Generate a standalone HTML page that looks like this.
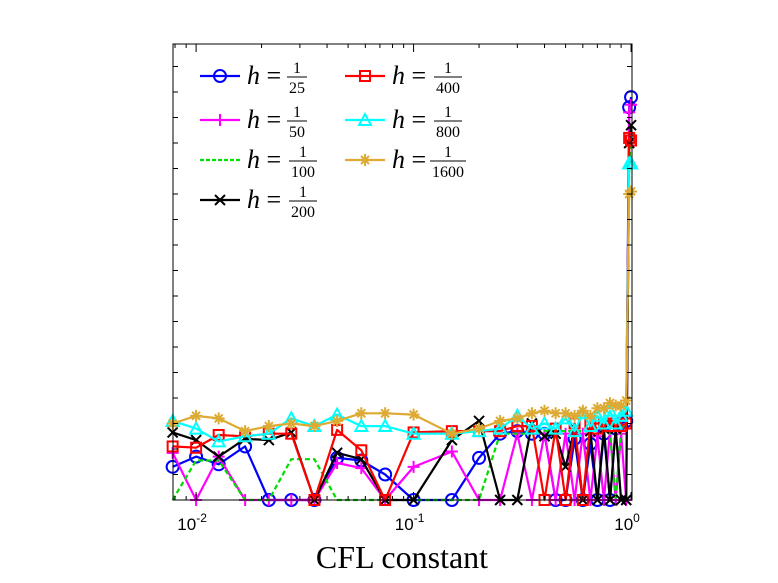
<!DOCTYPE html>
<html><head><meta charset="utf-8"><style>
html,body{margin:0;padding:0;background:#fff;}
svg{display:block;}
</style></head><body>
<svg id="chart" width="778" height="583" xmlns="http://www.w3.org/2000/svg">
<rect x="0" y="0" width="778" height="583" fill="#fff"/>
<g id="plot"></g>
<g id="axes"></g>
<g id="legend"></g>
<text x="402" y="568" text-anchor="middle" font-family="Liberation Serif, serif" font-size="32">CFL constant</text>
</svg>
<script>
const cfl = [0.0078,0.01,0.0127,0.0168,0.0216,0.0274,0.035,0.0445,0.0575,0.074,0.1,0.15,0.2,0.25,0.3,0.35,0.4,0.45,0.5,0.55,0.6,0.65,0.7,0.75,0.8,0.85,0.9,0.95,0.98,1.0];
const h25 = [1.3,1.7,1.4,2.1,0,0,0,1.65,1.55,1.0,0,0,1.65,2.6,2.7,2.6,2.6,0,0,2.4,0,2.2,0,2.6,0,2.8,3,3.1,15.4,15.8];
const h50 = [1.85,0,1.7,0,0,0,0,1.45,1.25,0,1.3,1.9,0,0,2.6,0,2.6,0,2.6,0,2.6,0,2.5,0,2.7,0,2.6,0,15.2,15.5];
const h100 = [0,1.55,1.55,0,0,1.6,1.6,0,0,0,0,0,0,2.6,2.6,2.6,2.7,2.7,2.7,2.7,2.7,2.7,2.8,2.8,2.6,0,2.8,3,13,14.5];
const h200 = [2.65,2.35,1.7,2.4,2.35,2.65,0,1.85,1.6,0,0,2.35,3.1,0,0,3,2.5,2.6,1.3,2.8,0,2.7,0,2.8,0,2.8,0,0,14,14.7];
const h400 = [2.1,2.05,2.55,2.5,2.6,2.6,0,2.75,1.95,0,2.65,2.7,2.7,2.7,2.9,2.9,0,2.8,0,3,0,3,2.8,3,2.9,3,2.9,3,14.2,14.1];
const h800 = [3.1,2.8,2.3,2.5,2.6,3.2,2.9,3.35,2.9,2.9,2.6,2.6,2.7,2.8,3.3,2.8,3.0,2.8,3.2,2.7,3.4,2.9,3.3,3.0,3.5,3.0,3.3,3.5,13.2,13.2];
const h1600 = [3.0,3.3,3.2,2.7,2.9,3.0,2.9,3.1,3.4,3.4,3.35,2.6,2.8,3.1,3.2,3.4,3.5,3.4,3.4,3.3,3.5,3.3,3.6,3.6,3.8,3.7,3.7,3.9,12.0,12.1];
const xTickLabels = ["-2","-1","0"];
const xTickValues = [0.01,0.1,1];
const legendDenoms = ["25","50","100","200","400","800","1600"];

const NS="http://www.w3.org/2000/svg";
const L=173,R=632,T=44,B=500;
const xmin=Math.log10(0.00783), xmax=Math.log10(1.01);
function xs(v){return L+(Math.log10(v)-xmin)/(xmax-xmin)*(R-L);}
function ys(v){return B-v*25.5;}
function el(tag,attrs,parent){const e=document.createElementNS(NS,tag);for(const k in attrs)e.setAttribute(k,attrs[k]);parent.appendChild(e);return e;}
const plot=document.getElementById('plot'), axes=document.getElementById('axes'), legend=document.getElementById('legend');

function marker(type,x,y,color,g){
  const s=6;
  if(type==='o') el('circle',{cx:x,cy:y,r:s,fill:'none',stroke:color,'stroke-width':2},g);
  else if(type==='+'){el('path',{d:`M${x-s} ${y}H${x+s}M${x} ${y-s}V${y+s}`,stroke:color,'stroke-width':2},g);}
  else if(type==='x'){el('path',{d:`M${x-5} ${y-5}L${x+5} ${y+5}M${x-5} ${y+5}L${x+5} ${y-5}`,stroke:color,'stroke-width':2},g);}
  else if(type==='s') el('rect',{x:x-5,y:y-5,width:10,height:10,fill:'none',stroke:color,'stroke-width':2},g);
  else if(type==='^') el('path',{d:`M${x} ${y-6}L${x+6} ${y+5}L${x-6} ${y+5}Z`,fill:'none',stroke:color,'stroke-width':2},g);
  else if(type==='*'){el('path',{d:`M${x-6} ${y}H${x+6}M${x} ${y-6}V${y+6}M${x-4} ${y-4}L${x+4} ${y+4}M${x-4} ${y+4}L${x+4} ${y-4}`,stroke:color,'stroke-width':2},g);}
}
const series=[
 {name:'h-25',data:h25,color:'#0000ff',m:'o',dash:null},
 {name:'h-50',data:h50,color:'#ff00ff',m:'+',dash:null},
 {name:'h-100',data:h100,color:'#00dd00',m:null,dash:'5,3'},
 {name:'h-200',data:h200,color:'#000000',m:'x',dash:null},
 {name:'h-400',data:h400,color:'#ff0000',m:'s',dash:null},
 {name:'h-800',data:h800,color:'#00ffff',m:'^',dash:null},
 {name:'h-1600',data:h1600,color:'#ddaa33',m:'*',dash:null}
];
series.forEach(s=>{
  const g=el('g',{},plot);
  
  
  const pts=s.data.map((v,i)=>xs(cfl[i]).toFixed(1)+','+ys(v).toFixed(1)).join(' ');
  const pl=el('polyline',{points:pts,fill:'none',stroke:s.color,'stroke-width':2.2,'stroke-linejoin':'round'},g);
  if(s.dash) pl.setAttribute('stroke-dasharray',s.dash);
  if(s.m) s.data.forEach((v,i)=>marker(s.m,xs(cfl[i]),ys(v),s.color,g));
});
// axes box
const box=el('rect',{x:L,y:T,width:R-L,height:B-T,fill:'none',stroke:'#000','stroke-width':1},axes);


for(let k=1;k<18;k++){const y=ys(k);el('path',{d:`M${L} ${y}h5M${R} ${y}h-5`,stroke:'#000','stroke-width':1},axes);}
for(let d=-3;d<=0;d++){for(let m=1;m<10;m++){const v=m*Math.pow(10,d);if(v<0.00783||v>1.01)continue;const x=xs(v);const len=m===1?8:4;el('path',{d:`M${x} ${B}v-${len}M${x} ${T}v${len}`,stroke:'#000','stroke-width':1},axes);}}
xTickValues.forEach((v,i)=>{
  const t=el('text',{x:xs(v)-4,y:530,'text-anchor':'middle','font-family':'Liberation Sans, sans-serif','font-size':17},axes);
  
  
  t.textContent='10';
  const sup=el('tspan',{dy:-8,'font-size':12},t);
  sup.textContent=xTickLabels[i];
});
// legend
const leg=[[0,200,76],[1,200,120],[2,200,160],[3,200,200],[4,345,76],[5,345,120],[6,345,160]];
leg.forEach(([i,x,y])=>{
  const s=series[i];
  const g=el('g',{},legend);
  
  
  const ln=el('path',{d:`M${x} ${y}H${x+40}`,stroke:s.color,'stroke-width':2.2},g);
  if(s.dash) ln.setAttribute('stroke-dasharray','4,2');
  if(s.m) marker(s.m,x+20,y,s.color,g);
  const t=el('text',{x:x+47,y:y+8,'font-family':'Liberation Serif, serif','font-size':26},g);
  t.innerHTML='<tspan font-style="italic">h</tspan> =';
  const cx=x+97+(legendDenoms[i].length>2?6:0);
  const n=el('text',{x:cx,y:y-3,'text-anchor':'middle','font-family':'Liberation Serif, serif','font-size':16},g);n.textContent='1';
  const w=legendDenoms[i].length*8+4;
  el('path',{d:`M${cx-w/2} ${y+1}h${w}`,stroke:'#000','stroke-width':1},g);
  const dd=el('text',{x:cx,y:y+17,'text-anchor':'middle','font-family':'Liberation Serif, serif','font-size':16},g);dd.textContent=legendDenoms[i];
});
</script>
</body></html>
